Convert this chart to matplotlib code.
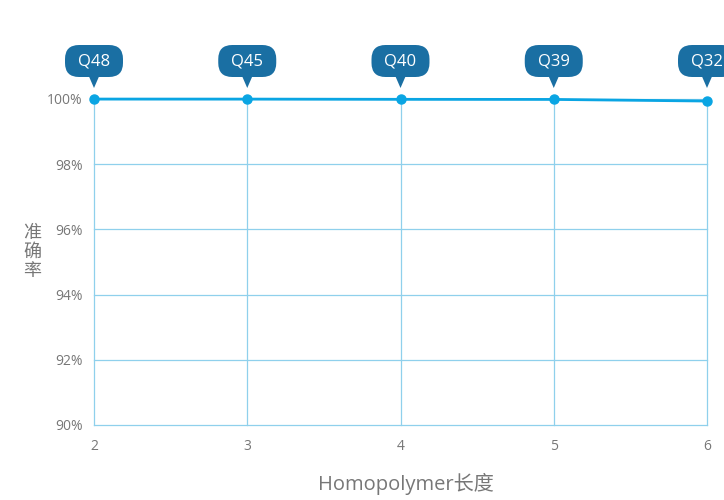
import matplotlib
matplotlib.use("Agg")
import matplotlib.pyplot as plt
from matplotlib.ticker import FuncFormatter
from matplotlib.patches import FancyBboxPatch, Polygon
from matplotlib.transforms import ScaledTranslation

plt.rcParams['font.family'] = ['Open Sans', 'Noto Sans CJK SC', 'DejaVu Sans']

x_vals = [2, 3, 4, 5, 6]
accuracy = [99.998, 99.997, 99.99, 99.987, 99.937]
q_labels = ['Q48', 'Q45', 'Q40', 'Q39', 'Q32']
y_ticks = [90, 92, 94, 96, 98, 100]

line_color = '#0aa5e3'
grid_color = '#8fd0ec'
bubble_color = '#1a6fa3'
text_gray = '#777777'

fig = plt.figure(figsize=(7.24, 5.0), dpi=100)
ax = fig.add_axes([94/724, 75/500, (707-94)/724, (425-99)/500])

ax.set_xlim(2, 6)
ax.set_ylim(90, 100)
ax.set_xticks(x_vals)
ax.set_yticks(y_ticks)
ax.yaxis.set_major_formatter(FuncFormatter(lambda v, p: f"{int(v)}%"))
ax.grid(True, color=grid_color, linewidth=0.9)
for gl in ax.get_xgridlines() + ax.get_ygridlines():
    gl.set_clip_on(False)
ax.set_axisbelow(True)
for s in ax.spines.values():
    s.set_visible(False)
ax.tick_params(length=0, colors=text_gray, labelsize=10)
ax.tick_params(axis='x', pad=10)
ax.tick_params(axis='y', pad=8)

ax.plot(x_vals, accuracy, color=line_color, linewidth=2, marker='o', markersize=6.5,
        clip_on=False, zorder=5)

for xv, lab in zip(x_vals, q_labels):
    tr = fig.dpi_scale_trans + ScaledTranslation(xv, 100, ax.transData)
    box = FancyBboxPatch((-0.29, 0.22), 0.58, 0.32,
                         boxstyle='round,pad=0,rounding_size=0.14',
                         fc=bubble_color, ec='none', transform=tr, clip_on=False, zorder=6)
    ax.add_patch(box)
    tri = Polygon([(-0.05, 0.225), (0.05, 0.225), (0.0, 0.11)], closed=True,
                  fc=bubble_color, ec='none', transform=tr, clip_on=False, zorder=6)
    ax.add_patch(tri)
    ax.text(0, 0.38, lab, transform=tr, ha='center', va='center', color='white',
            fontsize=12, zorder=7, clip_on=False)

fig.text(32/724, 1 - 252/500, '准\n确\n率', ha='center', va='center', color=text_gray,
         fontsize=13, linespacing=1.1, family=['Noto Sans CJK SC', 'DejaVu Sans'])
fig.text(406/724, 1 - 484/500, 'Homopolymer长度', ha='center', va='center', color=text_gray,
         fontsize=14.5, family=['Open Sans', 'Noto Sans CJK SC', 'DejaVu Sans'])

fig.savefig('out.png', dpi=100)
